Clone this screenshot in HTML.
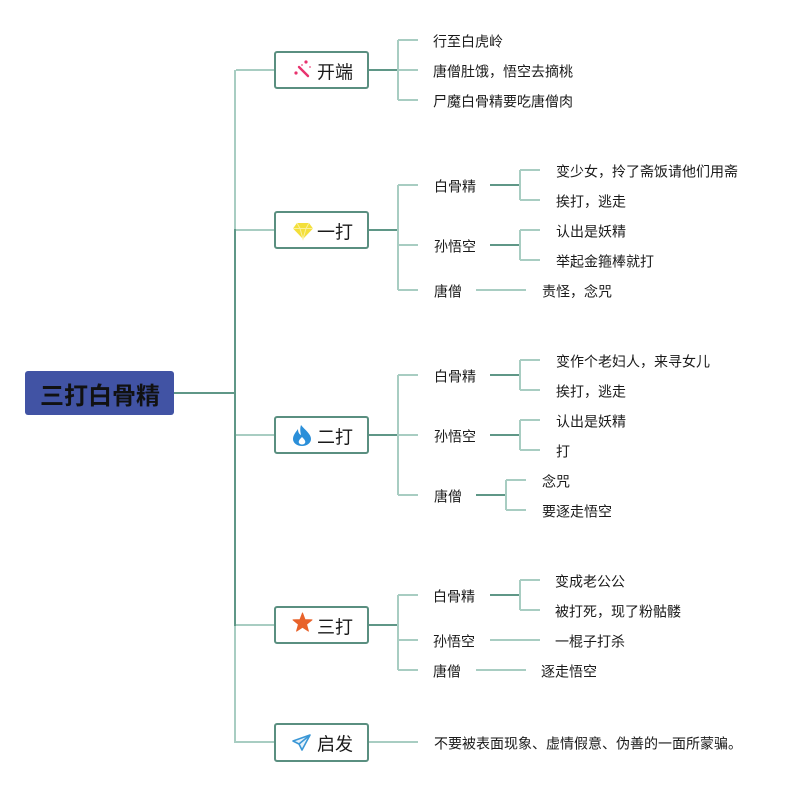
<!DOCTYPE html>
<html>
<head>
<meta charset="utf-8">
<style>
  html, body { margin: 0; padding: 0; background: #ffffff; }
  body { width: 801px; height: 786px; overflow: hidden; }
  svg { display: block; }
  text { font-family: "Liberation Sans", "Noto Sans CJK SC", "WenQuanYi Zen Hei", sans-serif; fill: #1a1a1a; }
  .c { font-size: 14px; }
  .b { font-size: 18px; }
  .r { font-size: 24px; font-weight: bold; fill: #111; }
  .d { stroke: #5f9787; stroke-width: 2; fill: none; }
  .l { stroke: #a8cdc2; stroke-width: 2; fill: none; }
  .box { fill: #ffffff; stroke: #5a8f80; stroke-width: 2; }
</style>
</head>
<body>
<svg width="801" height="786" viewBox="0 0 801 786" xmlns="http://www.w3.org/2000/svg">
  <!-- trunk -->
  <line class="d" x1="174" y1="393" x2="235" y2="393"/>
  <line class="l" x1="235" y1="70" x2="235" y2="230"/>
  <line class="l" x1="235" y1="625" x2="235" y2="743"/>
  <line class="d" x1="235" y1="229" x2="235" y2="626"/>
  <line class="l" x1="236" y1="70" x2="275" y2="70"/>
  <line class="l" x1="236" y1="230" x2="275" y2="230"/>
  <line class="l" x1="236" y1="435" x2="275" y2="435"/>
  <line class="l" x1="236" y1="625" x2="275" y2="625"/>
  <line class="l" x1="234" y1="742" x2="275" y2="742"/>

  <!-- root -->
  <rect x="25" y="371" width="149" height="44" rx="3" fill="#4153a4"/>
  <text class="r" x="100" y="404" text-anchor="middle">三打白骨精</text>

  <g transform="translate(0,1.5)">
  <!-- 开端 children text -->
  <text class="c" x="433" y="45">行至白虎岭</text>
  <text class="c" x="433" y="75">唐僧肚饿，悟空去摘桃</text>
  <text class="c" x="433" y="105">尸魔白骨精要吃唐僧肉</text>
  <!-- 一打 -->
  <text class="c" x="434" y="190">白骨精</text>
  <text class="c" x="434" y="250">孙悟空</text>
  <text class="c" x="434" y="295">唐僧</text>
  <text class="c" x="556" y="175">变少女，拎了斋饭请他们用斋</text>
  <text class="c" x="556" y="205">挨打，逃走</text>
  <text class="c" x="556" y="235">认出是妖精</text>
  <text class="c" x="556" y="265">举起金箍棒就打</text>
  <text class="c" x="542" y="295">责怪，念咒</text>
  <!-- 二打 -->
  <text class="c" x="434" y="380">白骨精</text>
  <text class="c" x="434" y="440">孙悟空</text>
  <text class="c" x="434" y="500">唐僧</text>
  <text class="c" x="556" y="365">变作个老妇人，来寻女儿</text>
  <text class="c" x="556" y="395">挨打，逃走</text>
  <text class="c" x="556" y="425">认出是妖精</text>
  <text class="c" x="556" y="455">打</text>
  <text class="c" x="542" y="485">念咒</text>
  <text class="c" x="542" y="515">要逐走悟空</text>
  <!-- 三打 -->
  <text class="c" x="433" y="600">白骨精</text>
  <text class="c" x="433" y="645">孙悟空</text>
  <text class="c" x="433" y="675">唐僧</text>
  <text class="c" x="555" y="585">变成老公公</text>
  <text class="c" x="555" y="615">被打死，现了粉骷髅</text>
  <text class="c" x="555" y="645">一棍子打杀</text>
  <text class="c" x="541" y="675">逐走悟空</text>
  <!-- 启发 -->
  <text class="c" x="434" y="747">不要被表面现象、虚情假意、伪善的一面所蒙骗。</text>
  </g>

  <!-- 开端 lines -->
  <line class="d" x1="369" y1="70" x2="398" y2="70"/>
  <line class="l" x1="398" y1="40" x2="398" y2="100"/>
  <line class="l" x1="398" y1="40" x2="418" y2="40"/>
  <line class="l" x1="398" y1="70" x2="418" y2="70"/>
  <line class="l" x1="398" y1="100" x2="418" y2="100"/>

  <!-- 一打 lines -->
  <line class="d" x1="369" y1="230" x2="398" y2="230"/>
  <line class="l" x1="398" y1="185" x2="398" y2="290"/>
  <line class="l" x1="398" y1="185" x2="418" y2="185"/>
  <line class="l" x1="398" y1="245" x2="418" y2="245"/>
  <line class="l" x1="398" y1="290" x2="418" y2="290"/>
  <line class="d" x1="490" y1="185" x2="520" y2="185"/>
  <line class="l" x1="520" y1="170" x2="520" y2="200"/>
  <line class="l" x1="520" y1="170" x2="540" y2="170"/>
  <line class="l" x1="520" y1="200" x2="540" y2="200"/>
  <line class="d" x1="490" y1="245" x2="520" y2="245"/>
  <line class="l" x1="520" y1="230" x2="520" y2="260"/>
  <line class="l" x1="520" y1="230" x2="540" y2="230"/>
  <line class="l" x1="520" y1="260" x2="540" y2="260"/>
  <line class="l" x1="476" y1="290" x2="526" y2="290"/>

  <!-- 二打 lines -->
  <line class="d" x1="369" y1="435" x2="398" y2="435"/>
  <line class="l" x1="398" y1="375" x2="398" y2="495"/>
  <line class="l" x1="398" y1="375" x2="418" y2="375"/>
  <line class="l" x1="398" y1="435" x2="418" y2="435"/>
  <line class="l" x1="398" y1="495" x2="418" y2="495"/>
  <line class="d" x1="490" y1="375" x2="520" y2="375"/>
  <line class="l" x1="520" y1="360" x2="520" y2="390"/>
  <line class="l" x1="520" y1="360" x2="540" y2="360"/>
  <line class="l" x1="520" y1="390" x2="540" y2="390"/>
  <line class="d" x1="490" y1="435" x2="520" y2="435"/>
  <line class="l" x1="520" y1="420" x2="520" y2="450"/>
  <line class="l" x1="520" y1="420" x2="540" y2="420"/>
  <line class="l" x1="520" y1="450" x2="540" y2="450"/>
  <line class="d" x1="476" y1="495" x2="506" y2="495"/>
  <line class="l" x1="506" y1="480" x2="506" y2="510"/>
  <line class="l" x1="506" y1="480" x2="526" y2="480"/>
  <line class="l" x1="506" y1="510" x2="526" y2="510"/>

  <!-- 三打 lines -->
  <line class="d" x1="369" y1="625" x2="398" y2="625"/>
  <line class="l" x1="398" y1="595" x2="398" y2="670"/>
  <line class="l" x1="398" y1="595" x2="418" y2="595"/>
  <line class="l" x1="398" y1="640" x2="418" y2="640"/>
  <line class="l" x1="398" y1="670" x2="418" y2="670"/>
  <line class="d" x1="490" y1="595" x2="520" y2="595"/>
  <line class="l" x1="520" y1="580" x2="520" y2="610"/>
  <line class="l" x1="520" y1="580" x2="540" y2="580"/>
  <line class="l" x1="520" y1="610" x2="540" y2="610"/>
  <line class="l" x1="490" y1="640" x2="540" y2="640"/>
  <line class="l" x1="476" y1="670" x2="526" y2="670"/>

  <!-- 启发 line -->
  <line class="l" x1="369" y1="742" x2="418" y2="742"/>

  <!-- branch boxes -->
  <rect class="box" x="275" y="52" width="93" height="36" rx="2"/>
  <rect class="box" x="275" y="212" width="93" height="36" rx="2"/>
  <rect class="box" x="275" y="417" width="93" height="36" rx="2"/>
  <rect class="box" x="275" y="607" width="93" height="36" rx="2"/>
  <rect class="box" x="275" y="724" width="93" height="37" rx="2"/>

  <text class="b" x="317" y="78.5">开端</text>
  <text class="b" x="317" y="238.5">一打</text>
  <text class="b" x="317" y="443.5">二打</text>
  <text class="b" x="317" y="633.5">三打</text>
  <text class="b" x="317" y="750.5">启发</text>

  <!-- icons -->
  <!-- wand -->
  <line x1="299" y1="67" x2="308" y2="76" stroke="#e8336e" stroke-width="2.4" stroke-linecap="round"/>
  <circle cx="306" cy="62" r="1.6" fill="#e8336e"/>
  <circle cx="296" cy="73" r="1.6" fill="#e8336e"/>
  <circle cx="302" cy="65" r="1" fill="#f07aa0"/>
  <circle cx="310" cy="67" r="1" fill="#f07aa0"/>
  <!-- diamond -->
  <polygon points="297,223 309,223 313,228.5 303,239 293,228.5" fill="#f3df3a"/>
  <polyline points="293,228.5 313,228.5" stroke="#fbf09a" stroke-width="1" fill="none"/>
  <polyline points="297,223 300,228.5 303,239 306,228.5 309,223" stroke="#fbf09a" stroke-width="1" fill="none"/>
  <!-- flame -->
  <path d="M301,425 C305,430 311,434 311,439 C311,443 307,446 302,446 C297,446 293,443 293,439 C293,435 296,432 298,429 C298,432 299,434 301,435 C300,431 300,428 301,425 Z" fill="#2b8fd9"/>
  <path d="M302,437 C304,439 306,441 305,443 C304,445 300,445 299,443 C298,441 300,439 302,437 Z" fill="#ffffff"/>
  <!-- star -->
  <polygon points="302.5,613 304.97,619.6 312,619.9 306.5,624.3 308.4,631.1 302.5,627.2 296.6,631.1 298.5,624.3 293,619.9 300.03,619.6" fill="#e8622a" stroke="#e8622a" stroke-width="1" stroke-linejoin="round"/>
  <!-- paper plane -->
  <path d="M310,735 L293,741 L299,744 L302,750 Z" fill="#e6f2fb" stroke="#3a97d6" stroke-width="1.6" stroke-linejoin="round"/>
  <line x1="299" y1="744" x2="310" y2="735" stroke="#3a97d6" stroke-width="1.6"/>
</svg>
</body>
</html>
